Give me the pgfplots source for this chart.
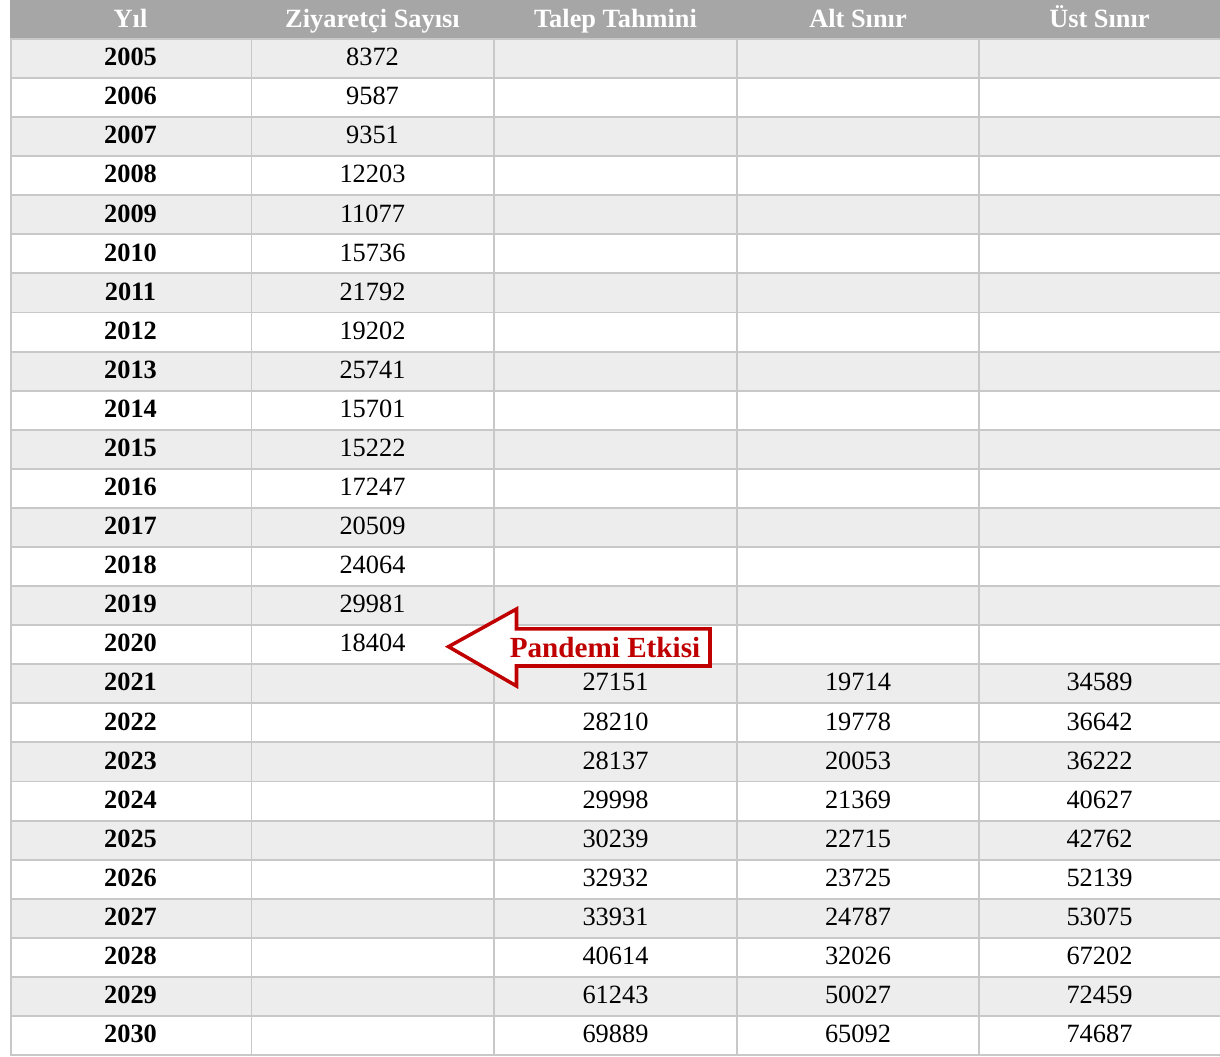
\documentclass[border=0pt]{standalone}
\usepackage{fontspec}
\setmainfont{Liberation Serif}
\usepackage{pgfplots}
\usepackage{pgfplotstable}
\pgfplotsset{compat=1.18}
\definecolor{hdr}{HTML}{A6A6A6}
\definecolor{rowg}{HTML}{EDEDED}
\definecolor{gridc}{HTML}{C8C8C8}
\definecolor{pred}{HTML}{C00000}

\pgfplotstableread{
year visitors
2005 8372
2006 9587
2007 9351
2008 12203
2009 11077
2010 15736
2011 21792
2012 19202
2013 25741
2014 15701
2015 15222
2016 17247
2017 20509
2018 24064
2019 29981
2020 18404
}\visitors

\pgfplotstableread{
year forecast lower upper
2021 27151 19714 34589
2022 28210 19778 36642
2023 28137 20053 36222
2024 29998 21369 40627
2025 30239 22715 42762
2026 32932 23725 52139
2027 33931 24787 53075
2028 40614 32026 67202
2029 61243 50027 72459
2030 69889 65092 74687
}\forecast

\newcommand{\cellfont}{\fontsize{7.5}{9}\selectfont}

\begin{document}
\begin{tikzpicture}
\begin{axis}[
  scale only axis, width=12.2cm, height=10.57cm,
  xmin=0, xmax=1220, ymin=2003.503, ymax=2030.55, y dir=reverse,
  axis lines=none, clip=false,
  every node near coord/.append style={anchor=base, yshift=-0.72mm, font=\cellfont, text=black},
]
% header background
\fill[hdr] (axis cs:10,2003.503) rectangle (axis cs:1220,2004.5);
% row shading
\pgfplotsforeachungrouped \yr in {2005,2007,...,2029}{
  \pgfmathsetmacro\ya{\yr-0.5}\pgfmathsetmacro\yb{\yr+0.5}
  \edef\temp{\noexpand\fill[rowg] (axis cs:10,\ya) rectangle (axis cs:1220,\yb);}
  \temp
}
% horizontal rules
\pgfplotsforeachungrouped \yr in {2005,2006,...,2031}{
  \pgfmathsetmacro\ya{\yr-0.5}
  \edef\temp{\noexpand\draw[gridc, line width=0.55pt] (axis cs:10,\ya) -- (axis cs:1220,\ya);}
  \temp
}
% vertical rules
\foreach \xx in {10.8,251.5,494,737,979}{
  \edef\temp{\noexpand\draw[gridc, line width=0.55pt] (axis cs:\xx,2004.5) -- (axis cs:\xx,2030.5);}
  \temp
}
% header labels
\node[anchor=base, text=white, font=\cellfont\bfseries] at (axis cs:130.5,2004.207) {Yıl};
\node[anchor=base, text=white, font=\cellfont\bfseries] at (axis cs:372.5,2004.207) {Ziyaretçi Sayısı};
\node[anchor=base, text=white, font=\cellfont\bfseries] at (axis cs:615.5,2004.207) {Talep Tahmini};
\node[anchor=base, text=white, font=\cellfont\bfseries] at (axis cs:858,2004.207) {Alt Sınır};
\node[anchor=base, text=white, font=\cellfont\bfseries] at (axis cs:1099.5,2004.207) {Üst Sınır};

% year column
\addplot[black, draw=none, mark=none, nodes near coords, point meta=explicit symbolic,
  every node near coord/.append style={font=\cellfont\bfseries}]
  table[x expr=130.5, y=year, meta=year] {\visitors};
\addplot[black, draw=none, mark=none, nodes near coords, point meta=explicit symbolic,
  every node near coord/.append style={font=\cellfont\bfseries}]
  table[x expr=130.5, y=year, meta=year] {\forecast};
% visitors
\addplot[black, draw=none, mark=none, nodes near coords, point meta=explicit symbolic]
  table[x expr=372.5, y=year, meta=visitors] {\visitors};
% forecast, lower, upper
\addplot[black, draw=none, mark=none, nodes near coords, point meta=explicit symbolic]
  table[x expr=615.5, y=year, meta=forecast] {\forecast};
\addplot[black, draw=none, mark=none, nodes near coords, point meta=explicit symbolic]
  table[x expr=858, y=year, meta=lower] {\forecast};
\addplot[black, draw=none, mark=none, nodes near coords, point meta=explicit symbolic]
  table[x expr=1099.5, y=year, meta=upper] {\forecast};

% annotation arrow
\draw[pred, line width=1pt, fill=white, line join=miter]
  (axis cs:448.5,2020.051) -- (axis cs:516.5,2019.087) -- (axis cs:516.5,2019.598)
  -- (axis cs:710,2019.598) -- (axis cs:710,2020.545) -- (axis cs:516.5,2020.545)
  -- (axis cs:516.5,2021.057) -- cycle;
\node[anchor=base, text=pred, font=\fontsize{8.3}{10}\selectfont\bfseries] at (axis cs:605,2020.315) {Pandemi Etkisi};
\end{axis}
\pgfresetboundingbox
\path (0,0) rectangle (12.2cm,10.57cm);
\end{tikzpicture}
\end{document}
